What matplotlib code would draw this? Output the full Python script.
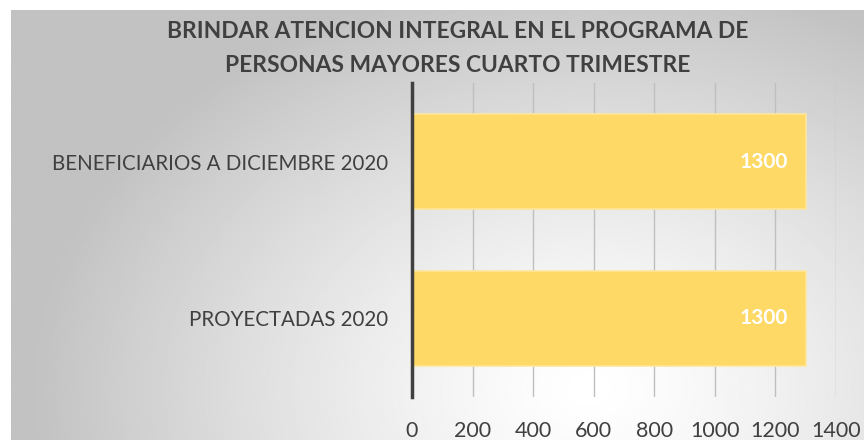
import numpy as np
import matplotlib.pyplot as plt

categories = ["PROYECTADAS 2020", "BENEFICIARIOS A DICIEMBRE 2020"]
values = [1300, 1300]
x_ticks = [0, 200, 400, 600, 800, 1000, 1200, 1400]
title_lines = ["BRINDAR ATENCION INTEGRAL EN EL PROGRAMA DE",
               "PERSONAS MAYORES CUARTO TRIMESTRE"]

plt.rcParams['font.family'] = ['Lato', 'DejaVu Sans']

W, H = 864, 440
fig = plt.figure(figsize=(W / 100, H / 100), dpi=100, facecolor='white')

# radial gradient background of the chart area
bg = fig.add_axes([11 / W, 0, 1 - 11 / W, 430 / H])
bg.set_axis_off()
gx, gy = np.meshgrid(np.linspace(11, W, 400), np.linspace(10, H, 220))
dist = np.sqrt(((gx - 590) / 560) ** 2 + ((gy - 390) / 420) ** 2)
shade = 1.0 - 0.24 * np.clip(dist, 0, 1) ** 1.3
bg.imshow(shade, cmap='gray', vmin=0, vmax=1, aspect='auto', extent=[0, 1, 0, 1],
          interpolation='bilinear')
bg.set_xlim(0, 1)
bg.set_ylim(0, 1)

ax = fig.add_axes([412 / W, 1 - 397 / H, (836 - 412) / W, (397 - 83) / H])
ax.patch.set_alpha(0)
y = np.arange(len(categories))
bars = ax.barh(y, values, height=0.6, color='#FED966', edgecolor='#FFE699', linewidth=1.2, zorder=3)
ax.set_xlim(0, 1400)
ax.set_ylim(-0.5, 1.5)
ax.set_xticks(x_ticks)
ax.set_xticklabels([str(t) for t in x_ticks], fontsize=15.5, color='#404040')
ax.set_yticks(y)
ax.set_yticklabels(categories, fontsize=14.8, color='#404040')
ax.tick_params(axis='both', length=0)
ax.tick_params(axis='x', pad=17)
ax.tick_params(axis='y', pad=17)
ax.grid(axis='x', color='#BFBFBF', linewidth=1, zorder=0)
for s in ['top', 'right', 'bottom']:
    ax.spines[s].set_visible(False)
ax.spines['left'].set_color('#404040')
ax.spines['left'].set_linewidth(2.5)
ax.spines['left'].set_zorder(4)

for yi, v in zip(y, values):
    ax.annotate(str(v), (v, yi), xytext=(-13, 0), textcoords='offset points',
                ha='right', va='center', color='white', fontsize=15, fontweight='bold', zorder=5)

# title, one text per line
for ty, line in zip([32, 65], title_lines):
    fig.text(458 / W, 1 - ty / H, line, ha='center', va='center', fontsize=16.4,
             fontweight='bold', color='#404040')

fig.savefig('out.png', dpi=100, facecolor='white')
